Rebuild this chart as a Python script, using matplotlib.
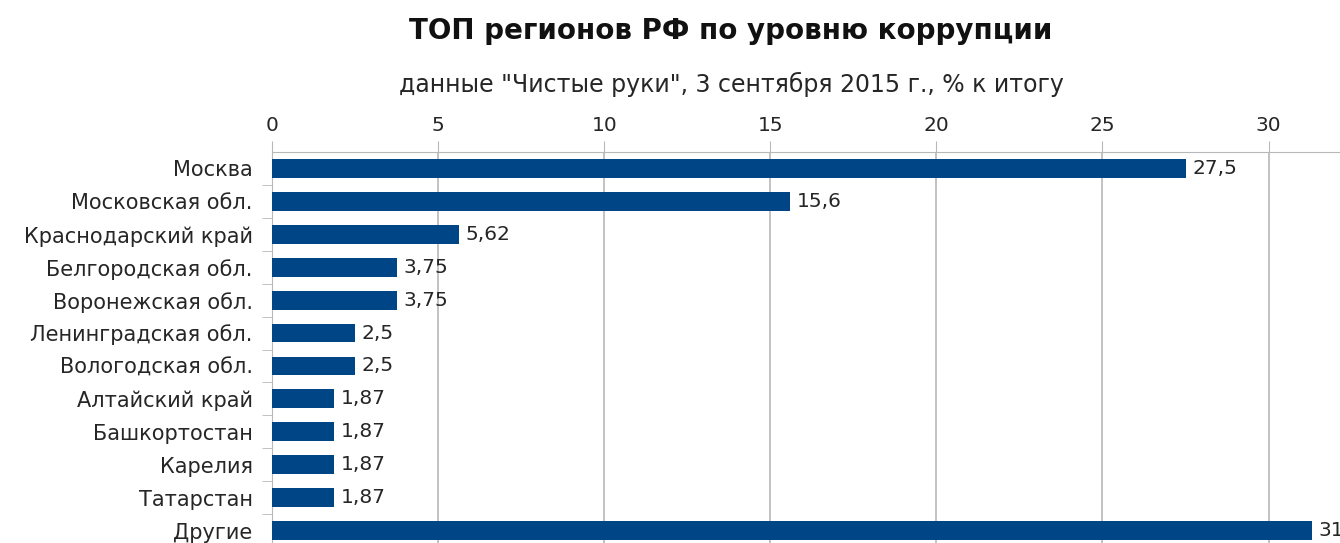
#!/usr/bin/env python3
# -*- coding: utf-8 -*-

import matplotlib
matplotlib.use("Agg")
from matplotlib import pyplot as plt

plt.rcParams["font.family"] = ["DejaVu Sans"]

regions = ["Москва", "Московская обл.", "Краснодарский край",
           "Белгородская обл.", "Воронежская обл.", "Ленинградская обл.",
           "Вологодская обл.", "Алтайский край", "Башкортостан",
           "Карелия", "Татарстан", "Другие"]
shares = [27.5, 15.6, 5.62, 3.75, 3.75, 2.5, 2.5, 1.87, 1.87, 1.87, 1.87, 31.3]
labels = ["27,5", "15,6", "5,62", "3,75", "3,75", "2,5", "2,5",
          "1,87", "1,87", "1,87", "1,87", "31,3"]
xticks = [0, 5, 10, 15, 20, 25, 30]

title = "ТОП регионов РФ по уровню коррупции"
subtitle = "данные \"Чистые руки\", 3 сентября 2015 г., % к итогу"

bar_color = "#004586"
text_color = "#262626"
grid_color = "#b8b8b8"

fig = plt.figure(figsize=(13.4, 5.43), dpi=100)
ax = fig.add_axes([272 / 1340, -4 / 543, 1 - 272 / 1340, 395 / 543])

pos = list(range(len(regions)))
ax.barh(pos, shares, height=0.57, color=bar_color, zorder=3)
for y, v, s in zip(pos, shares, labels):
    ax.text(v + 0.2, y, s, va="center", ha="left", fontsize=14.5,
            color=text_color, clip_on=False)

ax.set_ylim(len(regions) - 0.5, -0.5)
ax.set_xlim(0, 32.15)
ax.set_yticks(pos)
ax.set_yticklabels(regions, fontsize=15, color=text_color)
ax.set_yticks([p + 0.5 for p in pos[:-1]], minor=True)
ax.tick_params(axis="y", which="major", length=0, pad=14)
ax.tick_params(axis="y", which="minor", length=7, color=grid_color)

ax.xaxis.tick_top()
ax.set_xticks(xticks)
ax.set_xticklabels([str(t) for t in xticks], fontsize=14.5, color=text_color)
ax.tick_params(axis="x", length=8, color=grid_color, pad=4)
ax.grid(axis="x", color=grid_color, linewidth=1.2, zorder=0)

for side in ["right", "bottom"]:
    ax.spines[side].set_visible(False)
ax.spines["top"].set_color(grid_color)
ax.spines["left"].set_color(grid_color)

fig.text(731 / 1340, 1 - 31 / 543, title, ha="center", va="center",
         fontsize=20, fontweight="bold", color="#111111")
fig.text(731 / 1340, 1 - 84 / 543, subtitle, ha="center", va="center",
         fontsize=17, color=text_color)

fig.savefig("out.png", dpi=100)
